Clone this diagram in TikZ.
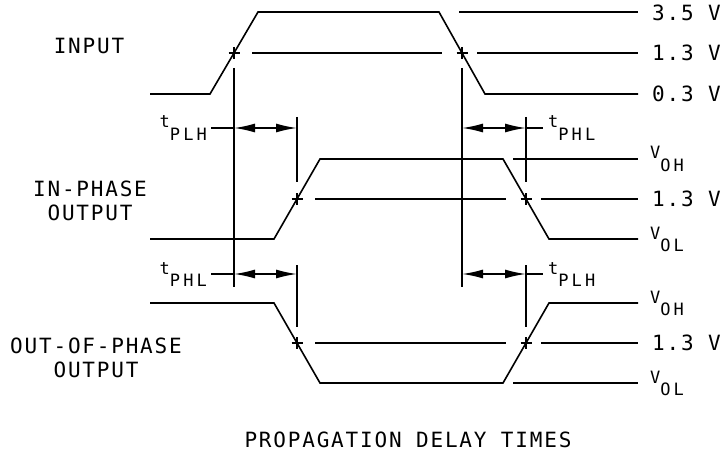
\documentclass[tikz,border=0pt]{standalone}
\usepackage{fontspec}
\usepackage{tikz}
\usetikzlibrary{arrows.meta, calc, positioning}
\newfontfamily\plotfont{DejaVu Sans Mono}[LetterSpace=8.6]
\newfontfamily\plotsubfont{DejaVu Sans Mono}[LetterSpace=18]
\newcommand{\plotsub}[2]{{\plotsubfont\fontsize{17pt}{18pt}\selectfont #1\raisebox{-12.5pt}{#2}}}
\tikzset{
    x=1pt, y=-1pt, % one unit is one pixel of the drawing, y runs down
    wire/.style={line width=1.6pt}, % every line of the drawing
    delay/.style={wire, {Latex[length=21pt,width=9pt]}-{Latex[length=21pt,width=9pt]}}, % arrows for the delay times
    lbl/.style={font=\plotfont\fontsize{21pt}{24pt}\selectfont, inner sep=0pt, align=center}, % plain labels
    sublbl/.style={inner sep=0pt}, % labels with an index
    plusmark/.pic={\draw[wire] (-5.5,0) -- (5.5,0) (0,-6) -- (0,6);}, % mark at 1.3 V
}
\begin{document}
\begin{tikzpicture}
    \useasboundingbox (0,0) rectangle (724,452);
    % input
    \coordinate (in0) at (150,94);
    \coordinate (in1) at (210,94);
    \coordinate (in2) at (258,12);
    \coordinate (in3) at (439,12);
    \coordinate (in4) at (485,94);
    \coordinate (in5) at (638,94);
    \coordinate (ix1) at ($(in1)!.5!(in2)$);
    \coordinate (ix2) at ($(in3)!.5!(in4)$);
    \draw[wire] (in0) -- (in1) -- (in2) -- (in3) -- (in4) -- (in5);
    \draw[wire] (459,12) -- (638,12);
    \draw[wire] ($(ix1)+(18,0)$) -- ($(ix2)+(-20,0)$) ($(ix2)+(15,0)$) -- (638,53);
    \pic at (ix1) {plusmark};
    \pic at (ix2) {plusmark};
    \node[lbl, anchor=west] (v35) at (652,13) {3.5 V};
    \node[lbl, anchor=west] (v13i) at (652,53) {1.3 V};
    \node[lbl, anchor=west] (v03) at (652,94) {0.3 V};
    \node[lbl] (inp) at (89,46) {INPUT};

    % in-phase output
    \coordinate (ip0) at (150,239);
    \coordinate (ip1) at (274,239);
    \coordinate (ip2) at (320,159);
    \coordinate (ip3) at (503,159);
    \coordinate (ip4) at (549,239);
    \coordinate (ip5) at (638,239);
    \coordinate (px1) at ($(ip1)!.5!(ip2)$);
    \coordinate (px2) at ($(ip3)!.5!(ip4)$);
    \draw[wire] (ip0) -- (ip1) -- (ip2) -- (ip3) -- (ip4) -- (ip5);
    \draw[wire] (513,159) -- (638,159);
    \draw[wire] ($(px1)+(18,0)$) -- ($(px2)+(-20,0)$) ($(px2)+(15,0)$) -- (638,199);
    \pic at (px1) {plusmark};
    \pic at (px2) {plusmark};
    \node[sublbl, anchor=base west] (voh1) at (650,159) {\plotsub{V}{OH}};
    \node[lbl, anchor=west] (v13p) at (652,199) {1.3 V};
    \node[sublbl, anchor=base west] (vol1) at (650,239) {\plotsub{V}{OL}};
    \node[lbl] (inph) at (90,201) {IN-PHASE\\OUTPUT};

    % out-of-phase output
    \coordinate (op0) at (150,303);
    \coordinate (op1) at (274,303);
    \coordinate (op2) at (320,383);
    \coordinate (op3) at (503,383);
    \coordinate (op4) at (549,303);
    \coordinate (op5) at (638,303);
    \coordinate (ox1) at ($(op1)!.5!(op2)$);
    \coordinate (ox2) at ($(op3)!.5!(op4)$);
    \draw[wire] (op0) -- (op1) -- (op2) -- (op3) -- (op4) -- (op5);
    \draw[wire] (513,383) -- (638,383);
    \draw[wire] ($(ox1)+(18,0)$) -- ($(ox2)+(-20,0)$) ($(ox2)+(15,0)$) -- (638,343);
    \pic at (ox1) {plusmark};
    \pic at (ox2) {plusmark};
    \node[sublbl, anchor=base west] (voh2) at (650,303) {\plotsub{V}{OH}};
    \node[lbl, anchor=west] (v13o) at (652,343) {1.3 V};
    \node[sublbl, anchor=base west] (vol2) at (650,383) {\plotsub{V}{OL}};
    \node[lbl] (outph) at (96,358) {OUT-OF-PHASE\\OUTPUT};

    % delay times
    \coordinate (rA) at ($(ix1)+(0,15)$);
    \coordinate (rB) at ($(ix2)+(0,15)$);
    \draw[wire] (rA) -- (234,287) (rB) -- (462,287);
    \draw[wire] ($(px1)+(0,-82)$) -- ($(px1)+(0,-17)$) ($(px2)+(0,-82)$) -- ($(px2)+(0,-17)$);
    \draw[wire] ($(ox1)+(0,-78)$) -- ($(ox1)+(0,-16)$) ($(ox2)+(0,-78)$) -- ($(ox2)+(0,-16)$);
    \foreach \row in {128,274} {
        \draw[wire] (211,\row) -- (234,\row);
        \draw[delay] (234,\row) -- (297,\row);
        \draw[delay] (462,\row) -- (526,\row);
        \draw[wire] (526,\row) -- (543,\row);
    }
    \node[sublbl, anchor=base east] (tplh1) at (207,128) {\plotsub{t}{PLH}};
    \node[sublbl, anchor=base west] (tphl1) at (548,128) {\plotsub{t}{PHL}};
    \node[sublbl, anchor=base east] (tphl2) at (207,274) {\plotsub{t}{PHL}};
    \node[sublbl, anchor=base west] (tplh2) at (548,274) {\plotsub{t}{PLH}};

    \node[lbl] (title) at (408,440) {PROPAGATION DELAY TIMES};
\end{tikzpicture}
\end{document}
